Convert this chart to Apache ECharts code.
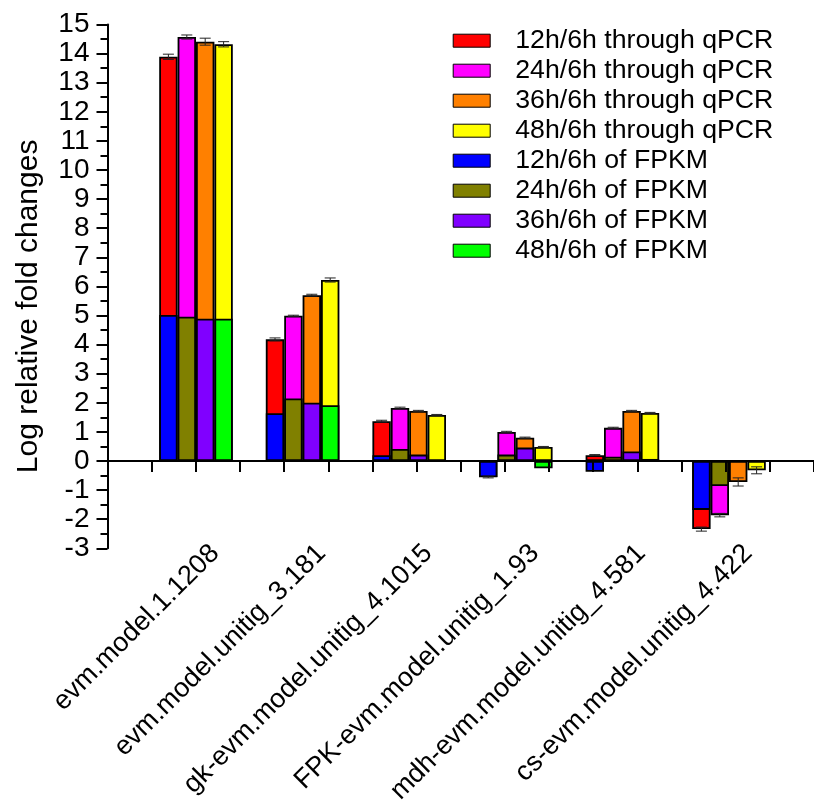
<!DOCTYPE html>
<html><head><meta charset="utf-8">
<script src="https://cdn.jsdelivr.net/npm/echarts@6/dist/echarts.min.js"></script>
<style>html,body{margin:0;padding:0;background:#fff}#c{width:814px;height:807px}</style>
</head><body><div id="c"></div><script>
const categories = ['evm.model.1.1208','evm.model.unitig_3.181','gk-evm.model.unitig_4.1015','FPK-evm.model.unitig_1.93','mdh-evm.model.unitig_4.581','cs-evm.model.unitig_4.422'];
const qpcrNames = ['12h/6h through qPCR','24h/6h through qPCR','36h/6h through qPCR','48h/6h through qPCR'];
const fpkmNames = ['12h/6h of FPKM','24h/6h of FPKM','36h/6h of FPKM','48h/6h of FPKM'];
const qpcr12 = [13.89, 4.18, 1.37, -0.55, 0.20, -2.34];
const qpcr24 = [14.57, 4.99, 1.82, 1.00, 1.14, -1.86];
const qpcr36 = [14.41, 5.70, 1.72, 0.80, 1.72, -0.72];
const qpcr48 = [14.32, 6.22, 1.58, 0.48, 1.65, -0.32];
const err12 = [0.09, 0.05, 0.03, 0.03, 0.02, 0.07];
const err24 = [0.07, 0.02, 0.03, 0.02, 0.02, 0.06];
const err36 = [0.12, 0.03, 0.02, 0.02, 0.02, 0.14];
const err48 = [0.09, 0.07, 0.02, 0.02, 0.02, 0.12];
const fpkm12 = [5.02, 1.64, 0.20, -0.56, -0.37, -1.68];
const fpkm24 = [4.96, 2.15, 0.41, 0.22, 0.15, -0.86];
const fpkm36 = [4.89, 2.00, 0.22, 0.46, 0.33, 0];
const fpkm48 = [4.89, 1.92, 0, -0.25, 0.07, 0];
const qpcrColors = ['#FF0000','#FF00FF','#FF8000','#FFFF00'];
const fpkmColors = ['#0000FF','#808000','#8000FF','#00FF00'];

const qpcr = [qpcr12, qpcr24, qpcr36, qpcr48];
const errs = [err12, err24, err36, err48];
const fpkm = [fpkm12, fpkm24, fpkm36, fpkm48];

const FONT = '"Liberation Sans", Arial, sans-serif';
const TOP = 24.5, HEIGHT = 523.8, BW = 18.4;

const series = [];
qpcr.forEach((d, k) => series.push({
  name: qpcrNames[k], type: 'bar', xAxisIndex: 1, yAxisIndex: 1, data: d,
  barWidth: BW, barGap: '0%', z: 2,
  itemStyle: {color: qpcrColors[k], borderColor: '#000', borderWidth: 1.8}
}));
fpkm.forEach((d, k) => series.push({
  name: fpkmNames[k], type: 'bar', xAxisIndex: 2, yAxisIndex: 1, data: d,
  barWidth: BW, barGap: '0%', z: 3,
  itemStyle: {color: fpkmColors[k], borderColor: '#000', borderWidth: 1.8}
}));
const errData = [];
qpcr.forEach((d, k) => d.forEach((v, i) => errData.push([i, k, v, errs[k][i]])));
series.push({
  name: 'err', type: 'custom', xAxisIndex: 1, yAxisIndex: 1, z: 6,
  encode: {x: 0, y: 2}, data: errData,
  renderItem: function (params, api) {
    const i = api.value(0), k = api.value(1), v = api.value(2), e = api.value(3);
    const hi = api.coord([i, v + e]), lo = api.coord([i, v - e]);
    const x = hi[0] + (k - 1.5) * BW;
    const cap = 5.5;
    const st = {stroke: '#222', lineWidth: 1, fill: null};
    return {type: 'group', children: [
      {type: 'line', shape: {x1: x, y1: hi[1], x2: x, y2: lo[1]}, style: st},
      {type: 'line', shape: {x1: x - cap, y1: hi[1], x2: x + cap, y2: hi[1]}, style: st},
      {type: 'line', shape: {x1: x - cap, y1: lo[1], x2: x + cap, y2: lo[1]}, style: st}
    ]};
  }
});

const chart = echarts.init(document.getElementById('c'));
chart.setOption({
  animation: false,
  backgroundColor: '#fff',
  grid: [
    {left: 107.5, top: TOP, height: HEIGHT, width: 710.4},
    {left: 142.7, top: TOP, height: HEIGHT, width: 639.6},
    {left: 161.7, top: TOP, height: HEIGHT, width: 639.6}
  ],
  legend: {
    data: qpcrNames.concat(fpkmNames), orient: 'vertical', left: 452.7, top: 25.7, padding: 0,
    itemWidth: 37, itemHeight: 13, itemGap: 0, icon: 'rect',
    itemStyle: {borderColor: '#000', borderWidth: 1},
    textStyle: {fontSize: 26.7, fontFamily: FONT, color: '#000', lineHeight: 30, padding: [0, 0, 0, 20]}
  },
  xAxis: [
    {type: 'value', gridIndex: 0, min: -1, max: 15, interval: 1, z: 10,
     axisLine: {onZero: true, lineStyle: {color: '#000', width: 2}},
     axisTick: {length: 11, lineStyle: {color: '#000', width: 2}},
     axisLabel: {show: false}, splitLine: {show: false}},
    {type: 'category', gridIndex: 1, data: categories, show: false},
    {type: 'category', gridIndex: 1, data: categories, show: false},
    {type: 'category', gridIndex: 2, data: categories, position: 'bottom',
     axisLine: {show: false, onZero: false}, axisTick: {show: false}, splitLine: {show: false},
     axisLabel: {interval: 0, rotate: 45, margin: 3, fontSize: 27, fontFamily: FONT, color: '#000'}}
  ],
  yAxis: [
    {type: 'value', gridIndex: 0, min: -3, max: 15, interval: 1, z: 10,
     name: 'Log relative fold changes', nameLocation: 'middle', nameGap: 64,
     nameTextStyle: {fontSize: 30, fontFamily: FONT, color: '#000', padding: [0, 40, 0, 0]},
     axisLine: {show: true, onZero: false, lineStyle: {color: '#000', width: 2}},
     axisTick: {length: 11, lineStyle: {color: '#000', width: 2}},
     minorTick: {show: true, splitNumber: 2, length: 7, lineStyle: {color: '#000', width: 2}},
     axisLabel: {fontSize: 28, fontFamily: FONT, color: '#000', margin: 18},
     splitLine: {show: false}},
    {type: 'value', gridIndex: 1, min: -3, max: 15, show: false, splitLine: {show: false}},
    {type: 'value', gridIndex: 2, min: -3, max: 15, show: false, splitLine: {show: false}}
  ],
  series: series
});
</script></body></html>
